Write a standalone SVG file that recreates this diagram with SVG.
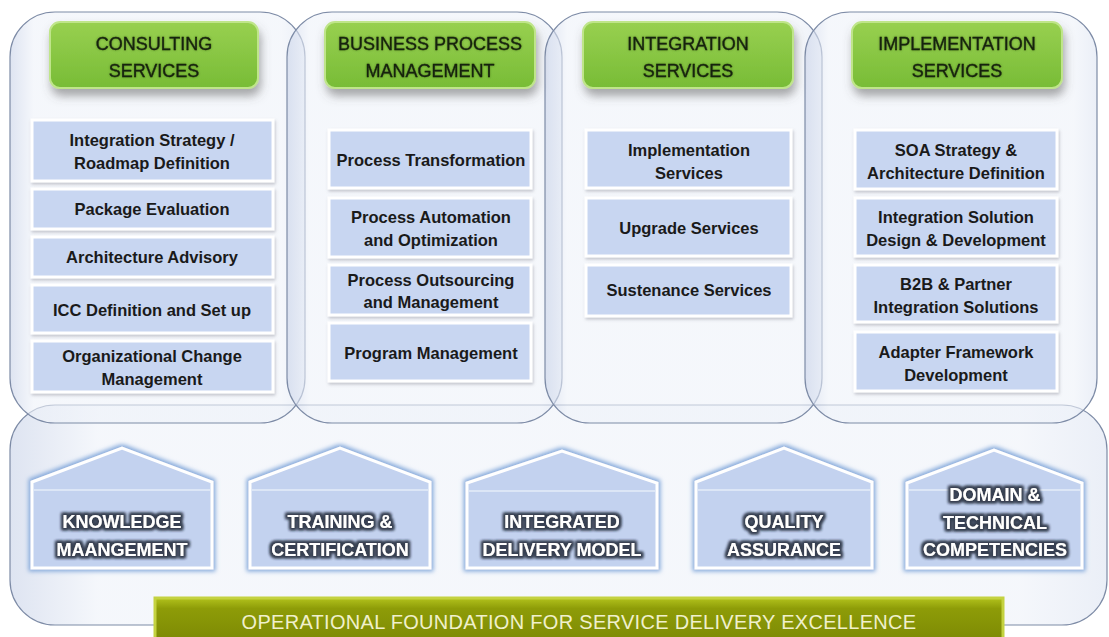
<svg xmlns="http://www.w3.org/2000/svg" width="1109" height="637" viewBox="0 0 1109 637">
<defs>
<linearGradient id="gHead" x1="0" y1="0" x2="0" y2="1"><stop offset="0" stop-color="#98d050"/><stop offset="1" stop-color="#78bc36"/></linearGradient>
<linearGradient id="gBar" x1="0" y1="0" x2="0" y2="1"><stop offset="0" stop-color="#b2c21c"/><stop offset="0.25" stop-color="#8e9c08"/><stop offset="1" stop-color="#7d8a04"/></linearGradient>
<linearGradient id="gPanel" x1="0" y1="0" x2="1" y2="0"><stop offset="0" stop-color="#c8d2e8"/><stop offset="0.08" stop-color="#eef2f9"/><stop offset="0.92" stop-color="#eef2f9"/><stop offset="1" stop-color="#dde4f2"/></linearGradient>
<filter id="shadow" x="-10%" y="-20%" width="120%" height="170%"><feDropShadow dx="2" dy="7" stdDeviation="5" flood-color="#555" flood-opacity="0.5"/></filter>
<filter id="boxShadow" x="-5%" y="-10%" width="110%" height="130%"><feDropShadow dx="1" dy="2" stdDeviation="1.5" flood-color="#667" flood-opacity="0.35"/></filter>
<filter id="houseGlow" x="-10%" y="-10%" width="120%" height="120%"><feMorphology in="SourceAlpha" operator="dilate" radius="2" result="d"/><feGaussianBlur in="d" stdDeviation="2" result="b"/><feFlood flood-color="#7aa2d8" flood-opacity="0.9"/><feComposite operator="in" in2="b"/><feMerge><feMergeNode/><feMergeNode in="SourceGraphic"/></feMerge></filter>
<filter id="txtDark" x="-10%" y="-30%" width="120%" height="160%"><feMorphology in="SourceAlpha" operator="dilate" radius="1.8" result="d"/><feGaussianBlur in="d" stdDeviation="1.8" result="b"/><feFlood flood-color="#384152" flood-opacity="1"/><feComposite operator="in" in2="b"/><feMerge><feMergeNode/><feMergeNode/><feMergeNode in="SourceGraphic"/></feMerge></filter>
<filter id="txtHead" x="-10%" y="-30%" width="120%" height="160%"><feMorphology in="SourceAlpha" operator="dilate" radius="0.4" result="d"/><feGaussianBlur in="d" stdDeviation="1.2" result="b"/><feFlood flood-color="#2d4a18" flood-opacity="0.55"/><feComposite operator="in" in2="b"/><feMerge><feMergeNode/><feMergeNode in="SourceGraphic"/></feMerge></filter>
</defs>
<style>
.panel{fill:url(#gPanel);fill-opacity:0.6;stroke:#7d8ba6;stroke-width:1.2}
.head{fill:url(#gHead);stroke:#bfe58a;stroke-width:2}
.headT{font-family:"Liberation Sans",Arial,sans-serif;font-size:18px;fill:#142208;text-anchor:middle;stroke:#142208;stroke-width:0.35}
.box{fill:#c8d6f1;stroke:#ffffff;stroke-width:3}
.boxT{font-family:"Liberation Sans",Arial,sans-serif;font-size:16.5px;font-weight:bold;fill:#1a1a1a;text-anchor:middle}
.house{fill:#c3d2ef;stroke:#ffffff;stroke-width:3}
.eave{stroke:#e4ecf8;stroke-width:1.5}
.houseT{font-family:"Liberation Sans",Arial,sans-serif;font-size:18px;font-weight:bold;fill:#ffffff;text-anchor:middle}
.barT{font-family:"Liberation Sans",Arial,sans-serif;font-size:20px;fill:#f0f0cc;text-anchor:middle;letter-spacing:0.3px}
</style>
<rect width="1109" height="637" fill="#ffffff"/>

<g id="panels">
<rect class="panel" x="10" y="405" width="1097" height="220" rx="45"/>
<rect class="panel" x="10" y="12" width="295" height="411" rx="45"/>
<rect class="panel" x="287" y="12" width="275" height="411" rx="45"/>
<rect class="panel" x="545" y="12" width="277" height="411" rx="45"/>
<rect class="panel" x="805" y="12" width="292" height="411" rx="45"/>
</g>

<g id="connectors"></g>

<g id="header-consulting">
<rect class="head" x="50" y="22" width="208" height="66" rx="10" filter="url(#shadow)"/>
<g filter="url(#txtHead)"><text class="headT" x="154" y="50">CONSULTING</text><text class="headT" x="154" y="77">SERVICES</text></g>
</g>
<g id="header-bpm">
<rect class="head" x="325" y="22" width="210" height="66" rx="10" filter="url(#shadow)"/>
<g filter="url(#txtHead)"><text class="headT" x="430" y="50">BUSINESS PROCESS</text><text class="headT" x="430" y="77">MANAGEMENT</text></g>
</g>
<g id="header-integration">
<rect class="head" x="583" y="22" width="210" height="66" rx="10" filter="url(#shadow)"/>
<g filter="url(#txtHead)"><text class="headT" x="688" y="50">INTEGRATION</text><text class="headT" x="688" y="77">SERVICES</text></g>
</g>
<g id="header-implementation">
<rect class="head" x="852" y="22" width="210" height="66" rx="10" filter="url(#shadow)"/>
<g filter="url(#txtHead)"><text class="headT" x="957" y="50">IMPLEMENTATION</text><text class="headT" x="957" y="77">SERVICES</text></g>
</g>

<g id="c1-b1"><rect class="box" x="32" y="120" width="241" height="61" filter="url(#boxShadow)"/><text class="boxT" x="152" y="146">Integration Strategy /</text><text class="boxT" x="152" y="169">Roadmap Definition</text></g>
<g id="c1-b2"><rect class="box" x="32" y="189" width="241" height="40" filter="url(#boxShadow)"/><text class="boxT" x="152" y="215">Package Evaluation</text></g>
<g id="c1-b3"><rect class="box" x="32" y="237" width="241" height="40" filter="url(#boxShadow)"/><text class="boxT" x="152" y="263">Architecture Advisory</text></g>
<g id="c1-b4"><rect class="box" x="32" y="285" width="241" height="48" filter="url(#boxShadow)"/><text class="boxT" x="152" y="316">ICC Definition and Set up</text></g>
<g id="c1-b5"><rect class="box" x="32" y="341" width="241" height="51" filter="url(#boxShadow)"/><text class="boxT" x="152" y="362">Organizational Change</text><text class="boxT" x="152" y="385">Management</text></g>

<g id="c2-b1"><rect class="box" x="329" y="130" width="202" height="58" filter="url(#boxShadow)"/><text class="boxT" x="431" y="166">Process Transformation</text></g>
<g id="c2-b2"><rect class="box" x="329" y="198" width="202" height="59" filter="url(#boxShadow)"/><text class="boxT" x="431" y="223">Process Automation</text><text class="boxT" x="431" y="246">and Optimization</text></g>
<g id="c2-b3"><rect class="box" x="329" y="265" width="202" height="50" filter="url(#boxShadow)"/><text class="boxT" x="431" y="286">Process Outsourcing</text><text class="boxT" x="431" y="308">and Management</text></g>
<g id="c2-b4"><rect class="box" x="329" y="323" width="202" height="58" filter="url(#boxShadow)"/><text class="boxT" x="431" y="359">Program Management</text></g>

<g id="c3-b1"><rect class="box" x="586" y="130" width="205" height="58" filter="url(#boxShadow)"/><text class="boxT" x="689" y="156">Implementation</text><text class="boxT" x="689" y="179">Services</text></g>
<g id="c3-b2"><rect class="box" x="586" y="198" width="205" height="58" filter="url(#boxShadow)"/><text class="boxT" x="689" y="234">Upgrade Services</text></g>
<g id="c3-b3"><rect class="box" x="586" y="265" width="205" height="51" filter="url(#boxShadow)"/><text class="boxT" x="689" y="296">Sustenance Services</text></g>

<g id="c4-b1"><rect class="box" x="855" y="130" width="202" height="59" filter="url(#boxShadow)"/><text class="boxT" x="956" y="156">SOA Strategy &amp;</text><text class="boxT" x="956" y="179">Architecture Definition</text></g>
<g id="c4-b2"><rect class="box" x="855" y="198" width="202" height="58" filter="url(#boxShadow)"/><text class="boxT" x="956" y="223">Integration Solution</text><text class="boxT" x="956" y="246">Design &amp; Development</text></g>
<g id="c4-b3"><rect class="box" x="855" y="265" width="202" height="57" filter="url(#boxShadow)"/><text class="boxT" x="956" y="290">B2B &amp; Partner</text><text class="boxT" x="956" y="313">Integration Solutions</text></g>
<g id="c4-b4"><rect class="box" x="855" y="332" width="202" height="59" filter="url(#boxShadow)"/><text class="boxT" x="956" y="358">Adapter Framework</text><text class="boxT" x="956" y="381">Development</text></g>

<g id="house-knowledge">
<polygon class="house" points="32,482 122,448 212,482 212,568 32,568" filter="url(#houseGlow)"/>
<line class="eave" x1="34" y1="490" x2="210" y2="490"/>
<g filter="url(#txtDark)"><text class="houseT" x="122" y="528">KNOWLEDGE</text><text class="houseT" x="122" y="556">MAANGEMENT</text></g>
</g>
<g id="house-training">
<polygon class="house" points="250,482 340,448 430,482 430,568 250,568" filter="url(#houseGlow)"/>
<line class="eave" x1="252" y1="490" x2="428" y2="490"/>
<g filter="url(#txtDark)"><text class="houseT" x="340" y="528">TRAINING &amp;</text><text class="houseT" x="340" y="556">CERTIFICATION</text></g>
</g>
<g id="house-delivery">
<polygon class="house" points="467,483 562,451 657,483 657,568 467,568" filter="url(#houseGlow)"/>
<line class="eave" x1="469" y1="491" x2="655" y2="491"/>
<g filter="url(#txtDark)"><text class="houseT" x="562" y="528">INTEGRATED</text><text class="houseT" x="562" y="556">DELIVERY MODEL</text></g>
</g>
<g id="house-quality">
<polygon class="house" points="696,482 784,448 872,482 872,568 696,568" filter="url(#houseGlow)"/>
<line class="eave" x1="698" y1="490" x2="870" y2="490"/>
<g filter="url(#txtDark)"><text class="houseT" x="784" y="528">QUALITY</text><text class="houseT" x="784" y="556">ASSURANCE</text></g>
</g>
<g id="house-domain">
<polygon class="house" points="907,483 994,450 1082,483 1082,568 907,568" filter="url(#houseGlow)"/>
<line class="eave" x1="909" y1="490" x2="1080" y2="490"/>
<g filter="url(#txtDark)"><text class="houseT" x="995" y="501">DOMAIN &amp;</text><text class="houseT" x="995" y="529">TECHNICAL</text><text class="houseT" x="995" y="556">COMPETENCIES</text></g>
</g>

<g id="foundation-bar">
<rect x="155" y="598" width="848" height="42" fill="url(#gBar)" stroke="#c4d240" stroke-width="3"/>
<text class="barT" x="579" y="629">OPERATIONAL FOUNDATION FOR SERVICE DELIVERY EXCELLENCE</text>
</g>
</svg>
